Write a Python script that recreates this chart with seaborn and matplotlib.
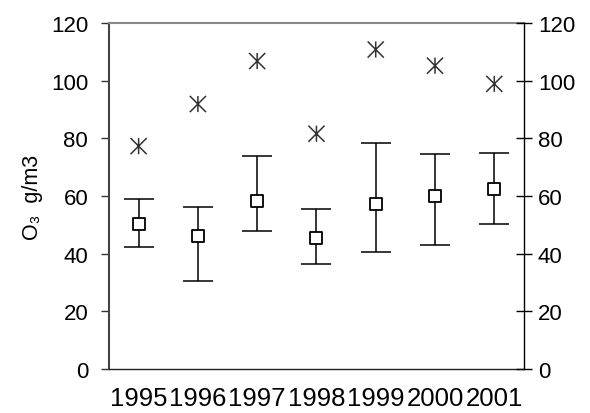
import matplotlib
matplotlib.use("Agg")
import matplotlib.pyplot as plt
from matplotlib.path import Path
import seaborn as sns
import pandas as pd
import numpy as np

years = ["1995", "1996", "1997", "1998", "1999", "2000", "2001"]
mean_vals = [50.2, 46.3, 58.2, 45.4, 57.3, 60.0, 62.4]
err_low = [42.3, 30.6, 47.8, 36.3, 40.5, 43.0, 50.4]
err_high = [59.0, 56.2, 73.9, 55.6, 78.3, 74.5, 75.0]
max_vals = [77.3, 91.9, 106.8, 81.6, 110.8, 105.2, 98.9]
y_ticks = [0, 20, 40, 60, 80, 100, 120]
y_label = "O₃  g/m3"

sns.set_style("white")
plt.rcParams["font.family"] = ["Liberation Sans", "DejaVu Sans"]
plt.rcParams["text.color"] = "black"
plt.rcParams["axes.labelcolor"] = "black"
plt.rcParams["xtick.labelcolor"] = "black"
plt.rcParams["ytick.labelcolor"] = "black"

df = pd.DataFrame({"year": years, "pos": np.arange(len(years)),
                   "mean": mean_vals, "lo": err_low, "hi": err_high, "max": max_vals})

star_path = Path(
    [(-1, -1), (1, 1), (-1, 1), (1, -1), (0, -1), (0, 1)],
    [Path.MOVETO, Path.LINETO, Path.MOVETO, Path.LINETO, Path.MOVETO, Path.LINETO],
)

fig = plt.figure(figsize=(5.9, 4.14), dpi=100)
ax = fig.add_axes([0.1847, 0.1063, 0.888 - 0.1847, 0.942 - 0.1063])

yerr = np.array([df["mean"] - df["lo"], df["hi"] - df["mean"]])
ax.errorbar(df["pos"], df["mean"], yerr=yerr, fmt="none", ecolor="black",
            elinewidth=1.1, capsize=11, capthick=1.1, zorder=2)
sns.scatterplot(data=df, x="pos", y="mean", ax=ax, marker="s", s=75,
                facecolor="white", edgecolor="black", linewidth=1.3, zorder=3)
sns.scatterplot(data=df, x="pos", y="max", ax=ax, marker=star_path, s=135,
                facecolor="none", edgecolor="#333333", linewidth=1.1, zorder=3)

ax.set_xlim(-0.5, len(years) - 0.5)
ax.set_ylim(0, 120)
ax.set_yticks(y_ticks)
ax.set_xticks(df["pos"])
ax.set_xticklabels(years, fontsize=18.5, color="black")
ax.set_xticks(np.arange(-0.5, len(years)), minor=True)
ax.tick_params(axis="x", which="major", length=0, pad=12, labelcolor="black")
ax.tick_params(axis="x", which="minor", length=6, width=1.0, direction="out", color="#333333")
ax.tick_params(axis="y", labelsize=16, length=6, width=1.0, direction="out", color="#333333",
               pad=9, labelcolor="black")
ax.set_xlabel("")
ax.set_ylabel(y_label, fontsize=15.5, labelpad=6, color="black")

ax.spines["left"].set_color("#444444")
ax.spines["left"].set_linewidth(1.5)
ax.spines["top"].set_color("#888888")
ax.spines["top"].set_linewidth(1.5)
ax.spines["bottom"].set_color("#222222")
ax.spines["bottom"].set_linewidth(1.0)
ax.spines["right"].set_visible(False)

ax2 = ax.twinx()
ax2.set_ylim(0, 120)
ax2.set_yticks(y_ticks)
ax2.tick_params(axis="y", labelsize=16, length=12, width=1.0, direction="inout", pad=4,
                color="black", labelcolor="black")
for side in ["left", "top", "bottom"]:
    ax2.spines[side].set_visible(False)
ax2.spines["right"].set_color("black")
ax2.spines["right"].set_linewidth(1.0)

fig.savefig("out.png", dpi=100)
